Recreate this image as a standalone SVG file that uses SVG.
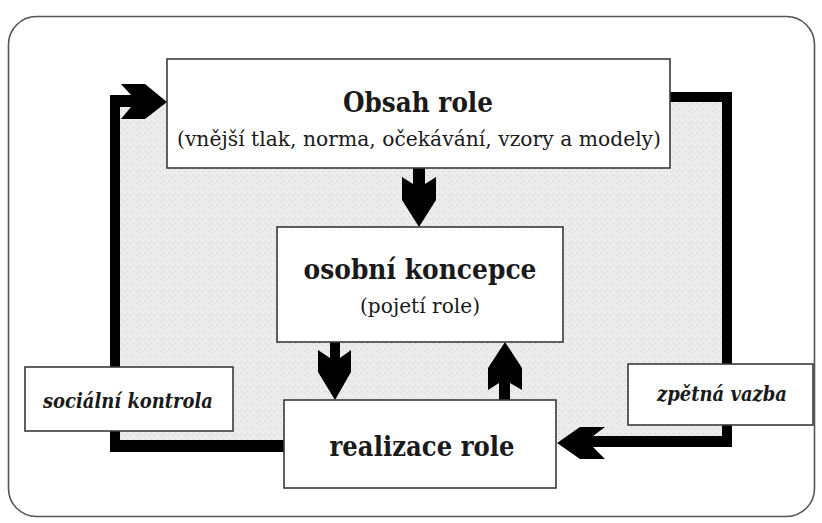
<svg xmlns="http://www.w3.org/2000/svg" width="822" height="523" viewBox="0 0 822 523">
  <defs>
    <pattern id="stipple" width="6" height="6" patternUnits="userSpaceOnUse">
      <rect width="6" height="6" fill="#ebebeb"/>
      <rect x="1" y="1" width="1" height="1" fill="#cfcfcf"/>
      <rect x="4" y="3" width="1" height="1" fill="#d6d6d6"/>
      <rect x="2" y="5" width="1" height="1" fill="#f7f7f7"/>
      <rect x="5" y="0" width="1" height="1" fill="#f5f5f5"/>
    </pattern>
    <style>
      .box { fill: #ffffff; stroke: #3a3a3a; stroke-width: 1.6; }
      .bar { fill: #000000; }
      .title { font-family: "DejaVu Serif", "Liberation Serif", serif; font-weight: bold; font-size: 27px; fill: #1a1a1a; text-anchor: middle; }
      .sub { font-family: "DejaVu Serif", "Liberation Serif", serif; font-size: 21px; fill: #1a1a1a; text-anchor: middle; }
      .lab { font-family: "DejaVu Serif", "Liberation Serif", serif; font-style: italic; font-weight: bold; font-size: 20px; fill: #1a1a1a; text-anchor: middle; }
    </style>
  </defs>

  <rect x="0" y="0" width="822" height="523" fill="#ffffff"/>
  <rect x="8.5" y="16.5" width="806" height="500" rx="28" ry="28" fill="#ffffff" stroke="#555555" stroke-width="1.6"/>

  <rect x="120" y="100" width="602" height="340" fill="url(#stipple)"/>

  <g id="connectors">
    <rect class="bar" x="110" y="95" width="10" height="357"/>
    <rect class="bar" x="110" y="95" width="22" height="12"/>
    <polygon class="bar" points="121,84 145,84 167,102 145,119 121,119 131,107 131,95"/>
    <rect class="bar" x="110" y="440" width="174" height="12"/>
    <rect class="bar" x="670" y="92" width="62" height="10"/>
    <rect class="bar" x="722" y="92" width="10" height="355"/>
    <rect class="bar" x="592" y="436" width="140" height="11"/>
    <polygon class="bar" points="557,443 580,427 605,427 593,436 593,447 605,459 580,459"/>
    <rect class="bar" x="413" y="167" width="12" height="18"/>
    <polygon class="bar" points="402,177 413,184 425,184 436,177 436,200 419,227 402,200"/>
    <rect class="bar" x="330" y="342" width="10" height="18"/>
    <polygon class="bar" points="318,350 330,358 340,358 351,350 351,372 335,400 318,372"/>
    <rect class="bar" x="499" y="380" width="11" height="20"/>
    <polygon class="bar" points="505,342 522,368 522,390 510,383 499,383 488,390 488,368"/>
  </g>

  <g id="obsah-role">
    <rect class="box" x="167" y="59" width="503" height="109"/>
    <text class="title" x="418" y="112" textLength="150" lengthAdjust="spacingAndGlyphs">Obsah role</text>
    <text class="sub" x="419" y="146" textLength="484" lengthAdjust="spacingAndGlyphs">(vnější tlak, norma, očekávání, vzory a modely)</text>
  </g>

  <g id="osobni-koncepce">
    <rect class="box" x="277" y="227" width="286" height="115"/>
    <text class="title" x="420" y="279" textLength="233" lengthAdjust="spacingAndGlyphs">osobní koncepce</text>
    <text class="sub" x="420" y="313" textLength="120" lengthAdjust="spacingAndGlyphs">(pojetí role)</text>
  </g>

  <g id="realizace-role">
    <rect class="box" x="284" y="400" width="272" height="88"/>
    <text class="title" x="422" y="456" textLength="185" lengthAdjust="spacingAndGlyphs">realizace role</text>
  </g>

  <g id="socialni-kontrola">
    <rect class="box" x="25" y="367" width="208" height="64"/>
    <text class="lab" x="128" y="408" textLength="170" lengthAdjust="spacingAndGlyphs">sociální kontrola</text>
  </g>

  <g id="zpetna-vazba">
    <rect class="box" x="628" y="364" width="185" height="61"/>
    <text class="lab" x="722" y="401" textLength="130" lengthAdjust="spacingAndGlyphs">zpětná vazba</text>
  </g>
</svg>
